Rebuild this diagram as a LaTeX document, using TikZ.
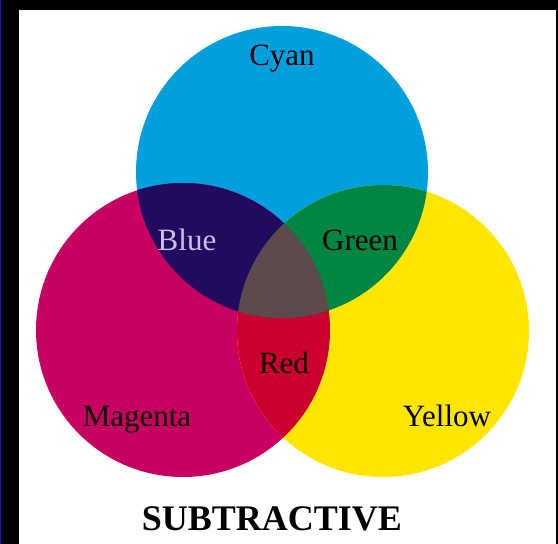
\documentclass[tikz,border=0pt]{standalone}
\usepackage{fontspec}
\setmainfont{Liberation Serif}
\usepackage{tikz}
\usetikzlibrary{positioning}
\definecolor{cyanink}{RGB}{0,160,222}
\definecolor{magentaink}{RGB}{200,0,98}
\definecolor{yellowink}{RGB}{255,230,0}
\definecolor{blueink}{RGB}{34,10,96}
\definecolor{greenink}{RGB}{0,134,66}
\definecolor{redink}{RGB}{204,0,46}
\definecolor{mixink}{RGB}{92,74,76}
\definecolor{bluetext}{RGB}{200,194,232}
\definecolor{edgeblue}{RGB}{20,20,200}

\begin{document}
\begin{tikzpicture}[x=1pt, y=-1pt,
  inklabel/.style={font=\fontsize{31}{31}\selectfont, inner sep=0pt, anchor=base},
  caption/.style={font=\fontsize{36}{36}\selectfont\bfseries, inner sep=0pt, anchor=base}
]
\useasboundingbox (0,0) rectangle (558,544);
\fill[black] (0,0) rectangle (558,544);
\fill[white] (19,10) rectangle (556,544);
\draw[edgeblue, line width=1pt] (0.5,0) -- (0.5,544);
\coordinate (cyanc) at (282,172);
\coordinate (magc) at (183,330);
\coordinate (yelc) at (383,331);
% the three inks
\fill[cyanink] (cyanc) circle[radius=146pt];
\fill[magentaink] (magc) circle[radius=147pt];
\fill[yellowink] (yelc) circle[radius=146pt];
% overlaps
\begin{scope}
  \clip (magc) circle[radius=147pt];
  \fill[redink] (yelc) circle[radius=146pt];
\end{scope}
\begin{scope}
  \clip (cyanc) circle[radius=146pt];
  \fill[blueink] (magc) circle[radius=147pt];
  \fill[greenink] (yelc) circle[radius=146pt];
  \clip (magc) circle[radius=147pt];
  \fill[mixink] (yelc) circle[radius=146pt];
\end{scope}
\node[inklabel] (cyanlbl) at (282,65) {Cyan};
\node[inklabel, text=bluetext] (bluelbl) at (187,250) {Blue};
\node[inklabel] (greenlbl) at (360,250) {Green};
\node[inklabel] (redlbl) at (284,373) {Red};
\node[inklabel] (magentalbl) at (137,426) {Magenta};
\node[inklabel] (yellowlbl) at (447,426) {Yellow};
\node[caption] (title) at (272,530) {SUBTRACTIVE};
\end{tikzpicture}
\end{document}
